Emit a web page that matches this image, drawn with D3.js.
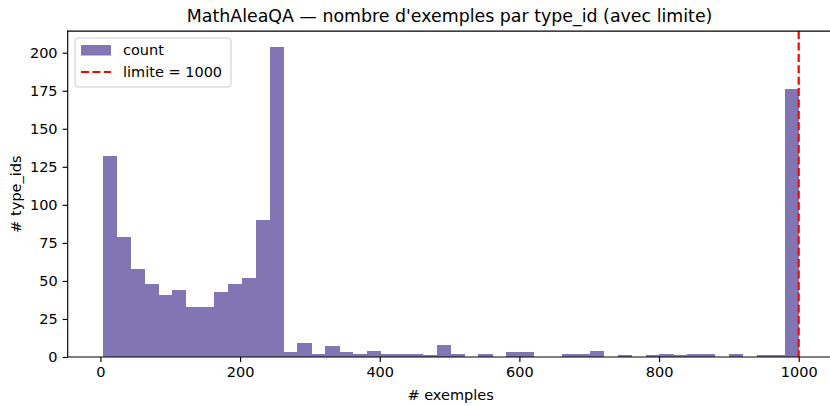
<!DOCTYPE html>
<html>
<head>
<meta charset="utf-8">
<script src="https://cdn.jsdelivr.net/npm/d3@7"></script>
<style>
  html, body { margin: 0; padding: 0; background: #fff; }
  svg { display: block; font-family: "DejaVu Sans", sans-serif; }
</style>
</head>
<body>
<svg id="chart" width="830" height="406"></svg>
<script>
// ---- data ----
const binStart = 3;
const binEnd = 1000;
const counts = [132, 79, 58, 48, 41, 44, 33, 33, 43, 48,
                52, 90, 204, 3, 9, 2, 7, 3, 2, 4,
                2, 2, 2, 1, 8, 2, 0, 2, 0, 3,
                3, 0, 0, 2, 2, 4, 0, 1, 0, 1,
                2, 1, 2, 2, 0, 2, 0, 1, 1, 176];
const limit = 1000;
const xTicks = [0, 200, 400, 600, 800, 1000];
const yTicks = [0, 25, 50, 75, 100, 125, 150, 175, 200];
const title = "MathAleaQA \u2014 nombre d'exemples par type_id (avec limite)";
const xLabel = "# exemples";
const yLabel = "# type_ids";
const legendLabels = ["count", "limite = 1000"];

(function () {
// ---- layout ----
const svg = d3.select("#chart");
const pL = 67.7, pR = 833.5, pT = 31.1, pB = 357;
const nb = counts.length;
const bw = (binEnd - binStart) / nb;
const bins = counts.map((c, i) => ({x0: binStart + i * bw, x1: binStart + (i + 1) * bw, c}));

const xMin = binStart - 0.05 * (binEnd - binStart);
const xMax = binEnd + 0.05 * (binEnd - binStart);
const x = d3.scaleLinear().domain([xMin, xMax]).range([pL, pR]);
const yMax = d3.max(counts) * 1.05;
const y = d3.scaleLinear().domain([0, yMax]).range([pB, pT]);

const barColor = "#8176b3";

// bars
svg.append("g").selectAll("rect").data(bins.filter(b => b.c > 0)).join("rect")
  .attr("x", d => x(d.x0))
  .attr("width", d => x(d.x1) - x(d.x0) + 0.3)
  .attr("y", d => y(d.c))
  .attr("height", d => y(0) - y(d.c))
  .attr("fill", barColor)
  .attr("shape-rendering", "crispEdges");

// limit line
svg.append("line")
  .attr("x1", x(limit)).attr("x2", x(limit))
  .attr("y1", pT).attr("y2", pB)
  .attr("stroke", "#ff0000").attr("stroke-width", 2.2)
  .attr("stroke-dasharray", "8,3.4");

// axes
const fs = "14.5px";
const xAxis = d3.axisBottom(x).tickValues(xTicks).tickSize(5.1).tickPadding(5).tickFormat(d3.format("d"));
const gx = svg.append("g").attr("transform", `translate(0,${pB})`).call(xAxis);
const yAxis = d3.axisLeft(y).tickValues(yTicks).tickSize(5.1).tickPadding(5).tickFormat(d3.format("d"));
const gy = svg.append("g").attr("transform", `translate(${pL},0)`).call(yAxis);
[gx, gy].forEach(g => {
  g.select(".domain").remove();
  g.selectAll(".tick line").attr("stroke", "#000").attr("stroke-width", 1.15);
  g.selectAll(".tick text").attr("fill", "#000").style("font-size", fs).style("font-family", "DejaVu Sans");
});

// spines
const spine = (x1, y1, x2, y2) => svg.append("line")
  .attr("x1", x1).attr("y1", y1).attr("x2", x2).attr("y2", y2)
  .attr("stroke", "#000").attr("stroke-width", 1.15).attr("stroke-linecap", "square");
spine(pL, pB, pR, pB);
spine(pL, pT, pL, pB);
spine(pL, pT, pR, pT);
spine(pR, pT, pR, pB);

// title & labels
svg.append("text").attr("x", (pL + pR) / 2 - 1).attr("y", 22)
  .attr("text-anchor", "middle").style("font-size", "17.4px").text(title);
svg.append("text").attr("x", (pL + pR) / 2).attr("y", 400)
  .attr("text-anchor", "middle").style("font-size", fs).text(xLabel);
svg.append("text").attr("transform", `translate(21,${(pT + pB) / 2}) rotate(-90)`)
  .attr("text-anchor", "middle").style("font-size", fs).text(yLabel);

// legend
const lg = svg.append("g");
lg.append("rect").attr("x", 75).attr("y", 38).attr("width", 156).attr("height", 49)
  .attr("rx", 3).attr("fill", "rgba(255,255,255,0.8)").attr("stroke", "#cccccc").attr("stroke-width", 1);
lg.append("rect").attr("x", 81).attr("y", 45).attr("width", 30).attr("height", 10.5).attr("fill", barColor);
lg.append("text").attr("x", 123).attr("y", 55).style("font-size", fs).text(legendLabels[0]);
lg.append("line").attr("x1", 81).attr("x2", 111).attr("y1", 72).attr("y2", 72)
  .attr("stroke", "#ff0000").attr("stroke-width", 2.2).attr("stroke-dasharray", "8,3.4");
lg.append("text").attr("x", 123).attr("y", 77).style("font-size", fs).text(legendLabels[1]);
})();
</script>
</body>
</html>
